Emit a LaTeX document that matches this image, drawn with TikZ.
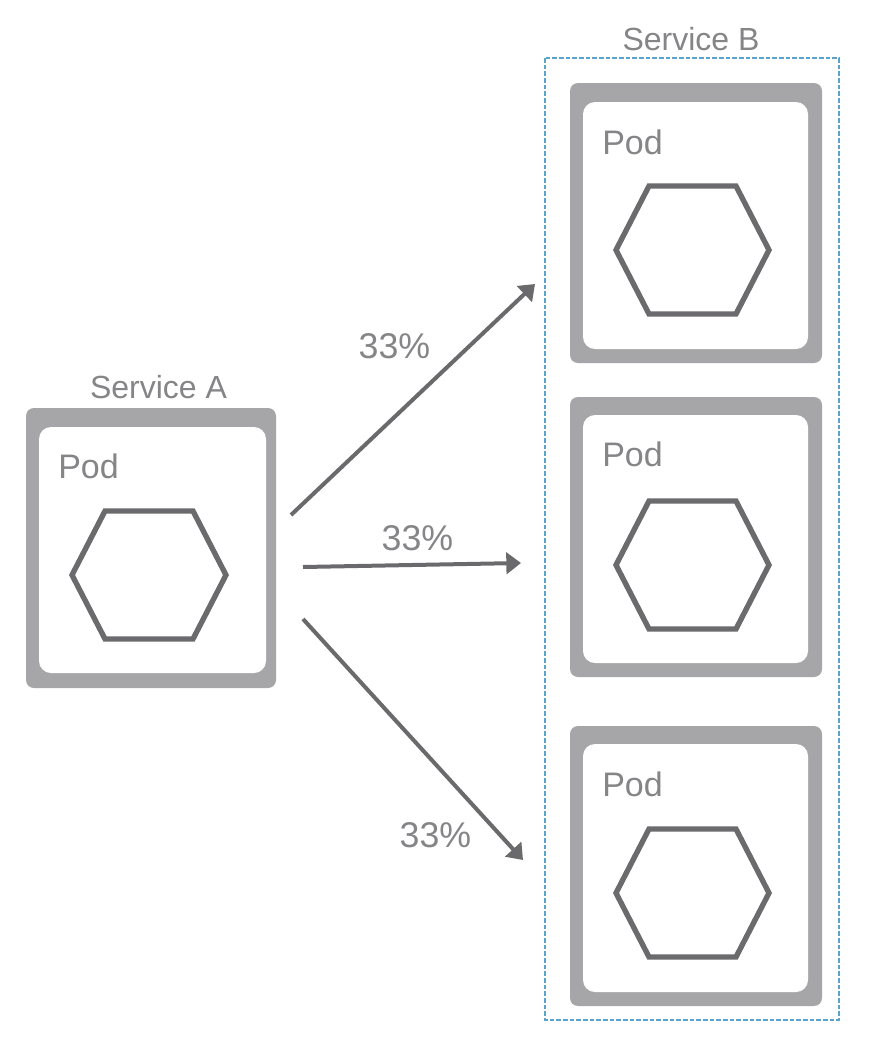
\documentclass[tikz,border=0pt]{standalone}
\usepackage{fontspec}
\setmainfont{Liberation Sans}
\usetikzlibrary{arrows.meta}
\definecolor{podframe}{HTML}{A6A6A8}
\definecolor{hexline}{HTML}{6B6B6D}
\definecolor{labelgray}{HTML}{858588}
\definecolor{arrowgray}{HTML}{6A6A6C}
\definecolor{svcblue}{HTML}{5AA3CE}
\tikzset{
  x=0.75pt,y=-0.75pt,
  podouter/.style={fill=podframe,rounded corners=6pt,draw=none},
  podinner/.style={fill=white,rounded corners=9pt,draw=none},
  hexshape/.style={draw=hexline,line width=4pt,line join=miter,fill=white},
  lbl/.style={text=labelgray,font=\fontsize{24}{28}\selectfont,inner sep=0pt},
  podlbl/.style={text=labelgray,font=\fontsize{25.5}{28}\selectfont,inner sep=0pt,anchor=west},
  pct/.style={text=labelgray,font=\fontsize{26.8}{30}\selectfont,inner sep=0pt},
  flow/.style={draw=arrowgray,line width=3pt,-{Triangle[length=11pt,width=16pt]}},
  svcbox/.style={draw=svcblue,line width=1.2pt,dash pattern=on 3.6pt off 1.4pt},
}
\begin{document}
\begin{tikzpicture}
\useasboundingbox (0,0) rectangle (882,1046);
\fill[white] (0,0) rectangle (882,1046);

% Service B boundary
\draw[svcbox] (545,58) rectangle (839,1020);
\node[lbl] (svcB) at (691,39) {Service B};
\node[lbl] (svcA) at (158.5,387) {Service A};

% Pod frames
\fill[podouter] (26,408) rectangle (276,688);
\fill[podinner] (39,427) rectangle (266,673);
\fill[podouter] (570,83) rectangle (822,363);
\fill[podinner] (583,102) rectangle (808,349);
\fill[podouter] (570,397) rectangle (822,677);
\fill[podinner] (583,415) rectangle (808,663);
\fill[podouter] (570,726) rectangle (822,1006);
\fill[podinner] (583,744) rectangle (808,992);

% Pod labels
\node[podlbl] (podA)  at (58,466) {Pod};
\node[podlbl] (podB1) at (602,142) {Pod};
\node[podlbl] (podB2) at (602,454) {Pod};
\node[podlbl] (podB3) at (602,784) {Pod};

% Hexagons
\draw[hexshape] (72,575) -- (105,511) -- (193,511) -- (226,575) -- (193,639) -- (105,639) -- cycle;
\draw[hexshape] (616,250) -- (649,186) -- (736,186) -- (769,250) -- (736,314) -- (649,314) -- cycle;
\draw[hexshape] (616,565) -- (649,501) -- (736,501) -- (769,565) -- (736,629) -- (649,629) -- cycle;
\draw[hexshape] (616,893) -- (649,829) -- (736,829) -- (769,893) -- (736,957) -- (649,957) -- cycle;

% Connector ends
\coordinate (a1) at (291,515);
\coordinate (b1) at (535,284);
\coordinate (a2) at (303,567);
\coordinate (b2) at (521,563);
\coordinate (a3) at (303,619);
\coordinate (b3) at (523,860);
\draw[flow] (a1) -- (b1);
\draw[flow] (a2) -- (b2);
\draw[flow] (a3) -- (b3);

% Percentages
\node[pct] (p1) at (394.5,346) {33\%};
\node[pct] (p2) at (417.5,538) {33\%};
\node[pct] (p3) at (435.5,835) {33\%};
\end{tikzpicture}
\end{document}
